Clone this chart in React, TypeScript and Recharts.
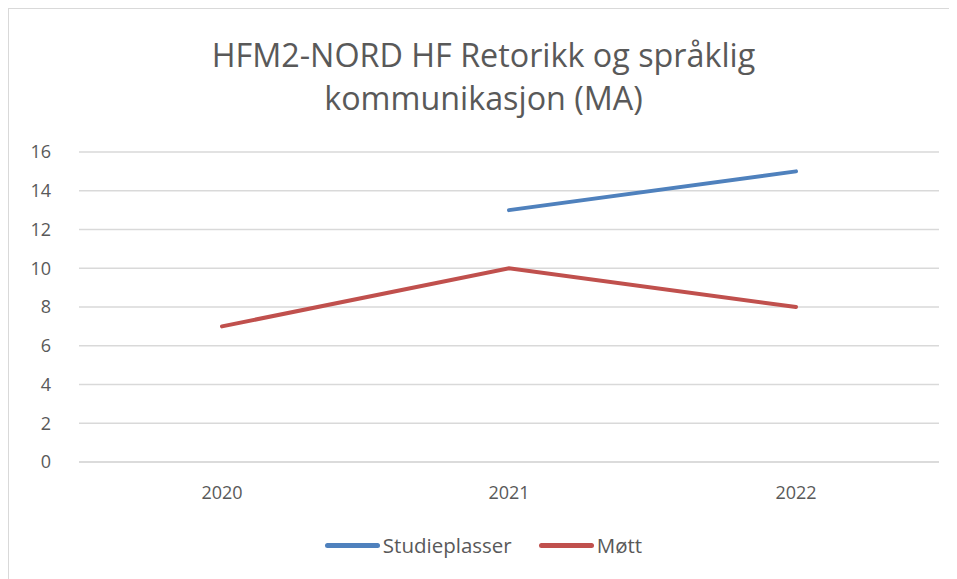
import React from 'react';
import { LineChart, Line, XAxis, YAxis, CartesianGrid, Legend } from 'recharts';

const years = ['2020', '2021', '2022'];
const studieplasser = [null, 13, 15];
const mott = [7, 10, 8];
const yTicks = [0, 2, 4, 6, 8, 10, 12, 14, 16];

const data = years.map((year, i) => ({
  year,
  Studieplasser: studieplasser[i],
  Møtt: mott[i],
}));

const font = '"Open Sans", "Liberation Sans", sans-serif';
const textColor = '#595959';

const legendItems = [
  { name: 'Studieplasser', color: '#4F81BD' },
  { name: 'Møtt', color: '#C0504D' },
];

const renderLegend = () => (
  <div style={{ display: 'flex', justifyContent: 'center', gap: 27, fontFamily: font, fontSize: 20.5, color: textColor, lineHeight: '24px' }}>
    {legendItems.map(item => (
      <div key={item.name} style={{ display: 'flex', alignItems: 'center' }}>
        <span style={{ display: 'inline-block', width: 55, height: 5, borderRadius: 3, background: item.color, marginRight: 3 }} />
        <span>{item.name}</span>
      </div>
    ))}
  </div>
);

export default function App() {
  return (
    <div style={{ position: 'relative', width: 949, height: 571, borderLeft: '1px solid #d9d9d9', borderTop: '1px solid #d9d9d9', background: '#fff', fontFamily: font }}>
      <div style={{ position: 'absolute', top: 24, left: 0, width: 949, textAlign: 'center', fontSize: 32.3, lineHeight: '43px', color: textColor }}>
        HFM2-NORD HF Retorikk og språklig<br />kommunikasjon (MA)
      </div>
      <LineChart width={949} height={571} data={data} margin={{ top: 143, right: 19, left: 0, bottom: 64 }}>
        <CartesianGrid vertical={false} stroke="#d9d9d9" strokeWidth={1.5} />
        <XAxis
          dataKey="year"
          axisLine={{ stroke: '#d9d9d9', strokeWidth: 1.5 }}
          tickLine={false}
          tickMargin={18}
          height={30}
          padding={{ left: 143, right: 143 }}
          tick={{ fill: textColor, fontSize: 18, fontFamily: font }}
        />
        <YAxis
          domain={[0, 16]}
          ticks={yTicks}
          axisLine={false}
          tickLine={false}
          width={70}
          tick={{ fill: textColor, fontSize: 18, fontFamily: font, dx: -20 }}
        />
        <Legend content={renderLegend} wrapperStyle={{ top: 524, left: 0, width: 949 }} />
        <Line type="linear" dataKey="Studieplasser" stroke="#4F81BD" strokeWidth={4} strokeLinecap="round" dot={false} isAnimationActive={false} />
        <Line type="linear" dataKey="Møtt" stroke="#C0504D" strokeWidth={4} strokeLinecap="round" dot={false} isAnimationActive={false} />
      </LineChart>
    </div>
  );
}
